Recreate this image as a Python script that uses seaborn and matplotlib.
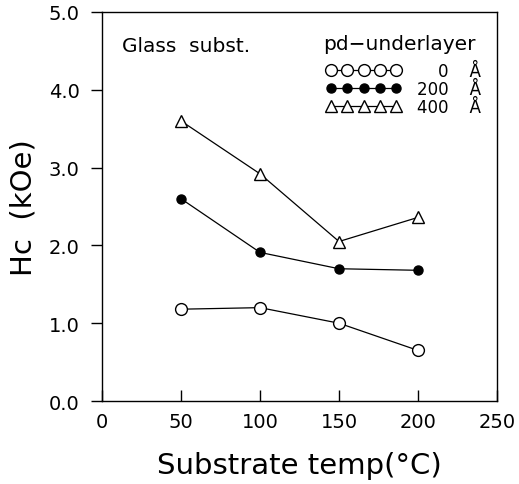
import matplotlib
matplotlib.use("Agg")
import matplotlib.pyplot as plt
import seaborn as sns
import numpy as np
import pandas as pd

# data
temps = [50, 100, 150, 200]
hc_0A = [1.18, 1.20, 1.00, 0.65]
hc_200A = [2.60, 1.91, 1.70, 1.68]
hc_400A = [3.60, 2.92, 2.05, 2.36]
series_labels = ["    0    Å", "200    Å", "400    Å"]
xticks = [0, 50, 100, 150, 200, 250]
yticks = [0.0, 1.0, 2.0, 3.0, 4.0, 5.0]

sns.set_theme(style="white")
plt.rcParams['font.family'] = ['DejaVu Sans']
plt.rcParams['text.color'] = 'black'
plt.rcParams['axes.labelcolor'] = 'black'
plt.rcParams['xtick.color'] = 'black'
plt.rcParams['ytick.color'] = 'black'

fig = plt.figure(figsize=(5.19, 4.85), dpi=100)
ax = fig.add_axes([102/519, 1-402/485, (497-102)/519, (402-13)/485])

common = dict(color="black", linewidth=0.9, markeredgecolor="black", markeredgewidth=1.0, ax=ax)
sns.lineplot(x=temps, y=hc_0A, marker="o", markerfacecolor="white", markersize=8.5,
             label=series_labels[0], **common)
sns.lineplot(x=temps, y=hc_200A, marker="o", markerfacecolor="black", markersize=6.5,
             label=series_labels[1], **common)
sns.lineplot(x=temps, y=hc_400A, marker="^", markerfacecolor="white", markersize=8,
             label=series_labels[2], **common)

ax.set_xlim(0, 250)
ax.set_ylim(0, 5)
ax.set_xticks(xticks)
ax.set_yticks(yticks)
ax.set_xticklabels([str(t) for t in xticks])
ax.set_yticklabels([f"{t:.1f}" for t in yticks])

for s in ax.spines.values():
    s.set_color("black")
    s.set_linewidth(1.0)

ax.tick_params(axis="y", direction="out", length=8, width=1.0, pad=8, labelsize=14,
               left=True, right=False)
ax.tick_params(axis="x", direction="in", length=8, width=1.0, pad=8, labelsize=14,
               bottom=True, top=False)

ax.set_xlabel("Substrate temp(°C)", fontsize=21, labelpad=14)
ax.set_ylabel("Hc  (kOe)", fontsize=21, labelpad=8)

ax.text((122-102)/395, (402-47)/389, "Glass  subst.", transform=ax.transAxes, fontsize=14.5,
        va="center", ha="left")
ax.text((323-102)/395, (402-45)/389, "pd\u2212underlayer", transform=ax.transAxes,
        fontsize=14.5, va="center", ha="left")

handles, labels = ax.get_legend_handles_labels()
leg = ax.legend(handles, labels, loc="upper right",
                bbox_to_anchor=((481-102)/395, (402-63)/389), frameon=False, numpoints=5,
                handlelength=4.5, handletextpad=0.95, labelspacing=0.0,
                fontsize=12, borderpad=0.0, borderaxespad=0.0)

fig.savefig("out.png", dpi=100)
